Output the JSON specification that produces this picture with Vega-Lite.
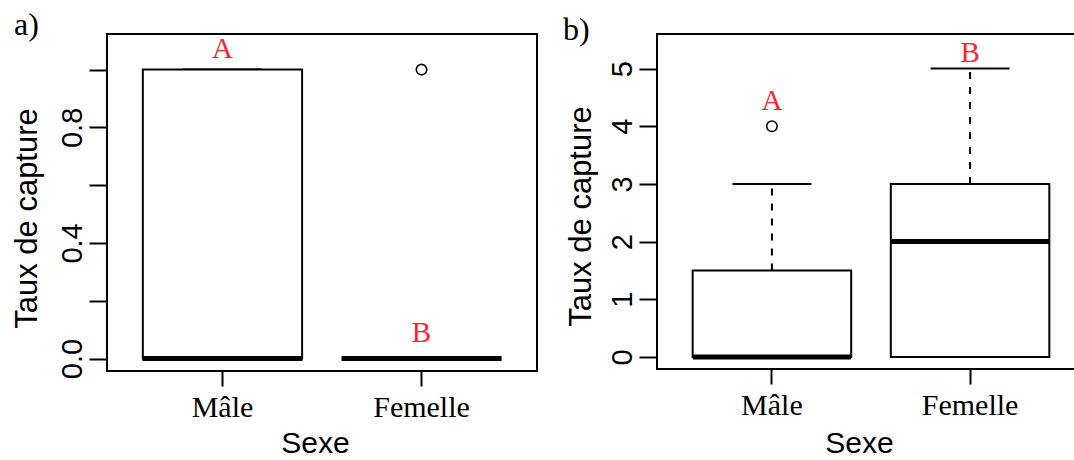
{
  "$schema": "https://vega.github.io/schema/vega-lite/v6.json",
  "padding": {"left": 10, "top": 8, "right": 0, "bottom": 0},
  "background": "white",
  "config": {
    "view": {"stroke": "black", "strokeWidth": 2},
    "tick": {"opacity": 1},
    "axis": {"grid": false, "domain": false, "tickColor": "black", "tickWidth": 2, "labelColor": "black", "titleColor": "black", "labelOverlap": false, "labelFlush": false, "titleFontWeight": "normal"},
    "title": {"font": "Liberation Serif", "fontSize": 32, "fontWeight": "normal", "color": "black", "anchor": "start", "frame": "bounds", "baseline": "alphabetic"}
  },
  "datasets": {
    "boxA": [
      {"sexe": "Mâle", "lo": 0, "q1": 0, "med": 0, "q3": 1, "hi": 1},
      {"sexe": "Femelle", "lo": 0, "q1": 0, "med": 0, "q3": 0, "hi": 0}
    ],
    "outA": [{"sexe": "Femelle", "v": 1}],
    "letA": [{"sexe": "Mâle", "y": 1.04, "lab": "A"}, {"sexe": "Femelle", "y": 0.056, "lab": "B"}],
    "boxB": [
      {"sexe": "Mâle", "lo": 0, "q1": 0, "med": 0, "q3": 1.5, "hi": 3},
      {"sexe": "Femelle", "lo": 0, "q1": 0, "med": 2, "q3": 3, "hi": 5}
    ],
    "outB": [{"sexe": "Mâle", "v": 4}],
    "letB": [{"sexe": "Mâle", "y": 4.28, "lab": "A"}, {"sexe": "Femelle", "y": 5.116, "lab": "B"}]
  },
  "spacing": 24,
  "hconcat": [
    {
      "width": 430,
      "height": 337,
      "title": {"text": "a)", "offset": -8, "dx": 3},
      "encoding": {
        "x": {"field": "sexe", "type": "nominal", "sort": ["Mâle", "Femelle"],
          "scale": {"paddingInner": 0.2, "paddingOuter": 0.18},
          "axis": {"labelFont": "Liberation Serif", "labelFontSize": 30, "labelAngle": 0, "labelBaseline": "alphabetic", "labelPadding": 30, "tickSize": 15,
            "title": "Sexe", "titleFont": "Liberation Sans", "titleFontSize": 30, "titleBaseline": "alphabetic", "titleAlign": "center", "titleX": 208, "titleY": 81}}
      },
      "layer": [
        {
          "data": {"name": "boxA"},
          "mark": {"type": "rule", "strokeDash": [7, 8], "strokeWidth": 2, "color": "black"},
          "encoding": {
            "y": {"field": "q3", "type": "quantitative", "scale": {"domain": [-0.0432, 1.1232], "nice": false, "zero": false},
              "axis": {"values": [0, 0.2, 0.4, 0.6, 0.8, 1], "format": ".1f", "labelExpr": "(datum.label == '0.0' || datum.label == '0.4' || datum.label == '0.8') ? datum.label : ''",
                "labelAngle": -90, "labelAlign": "center", "labelBaseline": "alphabetic", "labelPadding": 8, "tickSize": 18,
                "labelFont": "Liberation Sans", "labelFontSize": 29,
                "title": "Taux de capture", "titleFont": "Liberation Sans", "titleFontSize": 31, "titleAngle": -90, "titleAlign": "center", "titleBaseline": "middle", "titleX": -80, "titleY": 184}},
            "y2": {"field": "hi"}
          }
        },
        {
          "data": {"name": "boxA"},
          "mark": {"type": "tick", "size": 79, "thickness": 2, "color": "black"},
          "encoding": {"y": {"field": "hi", "type": "quantitative", "title": "Taux de capture"}}
        },
        {
          "data": {"name": "boxA"},
          "mark": {"type": "bar", "fill": "white", "stroke": "black", "strokeWidth": 2},
          "encoding": {"y": {"field": "q1", "type": "quantitative", "title": "Taux de capture"}, "y2": {"field": "q3"}}
        },
        {
          "data": {"name": "boxA"},
          "mark": {"type": "tick", "size": 160, "thickness": 5, "color": "black"},
          "encoding": {"y": {"field": "med", "type": "quantitative", "title": "Taux de capture"}}
        },
        {
          "data": {"name": "outA"},
          "mark": {"type": "point", "shape": "circle", "filled": false, "size": 110, "strokeWidth": 1.6, "color": "black", "opacity": 1},
          "encoding": {"y": {"field": "v", "type": "quantitative", "title": "Taux de capture"}}
        },
        {
          "data": {"name": "letA"},
          "mark": {"type": "text", "font": "Liberation Serif", "fontSize": 29, "color": "#ff2233", "baseline": "alphabetic", "align": "center"},
          "encoding": {"y": {"field": "y", "type": "quantitative", "title": "Taux de capture"}, "text": {"field": "lab"}}
        }
      ]
    },
    {
      "width": 428,
      "height": 335,
      "title": {"text": "b)", "offset": -13, "dx": -2},
      "encoding": {
        "x": {"field": "sexe", "type": "nominal", "sort": ["Mâle", "Femelle"],
          "scale": {"paddingInner": 0.2, "paddingOuter": 0.18},
          "axis": {"labelFont": "Liberation Serif", "labelFontSize": 30, "labelAngle": 0, "labelBaseline": "alphabetic", "labelPadding": 30, "tickSize": 15,
            "title": "Sexe", "titleFont": "Liberation Sans", "titleFontSize": 30, "titleBaseline": "alphabetic", "titleAlign": "center", "titleX": 202, "titleY": 83}}
      },
      "layer": [
        {
          "data": {"name": "boxB"},
          "mark": {"type": "rule", "strokeDash": [7, 8], "strokeWidth": 2, "color": "black"},
          "encoding": {
            "y": {"field": "q3", "type": "quantitative", "scale": {"domain": [-0.21, 5.6], "nice": false, "zero": false},
              "axis": {"values": [0, 1, 2, 3, 4, 5], "format": "d",
                "labelAngle": -90, "labelAlign": "center", "labelBaseline": "alphabetic", "labelPadding": 8, "tickSize": 18,
                "labelFont": "Liberation Sans", "labelFontSize": 29,
                "title": "Taux de capture", "titleFont": "Liberation Sans", "titleFontSize": 31, "titleAngle": -90, "titleAlign": "center", "titleBaseline": "middle", "titleX": -76, "titleY": 182}},
            "y2": {"field": "hi"}
          }
        },
        {
          "data": {"name": "boxB"},
          "mark": {"type": "tick", "size": 79, "thickness": 2, "color": "black"},
          "encoding": {"y": {"field": "hi", "type": "quantitative", "title": "Taux de capture"}}
        },
        {
          "data": {"name": "boxB"},
          "mark": {"type": "bar", "fill": "white", "stroke": "black", "strokeWidth": 2},
          "encoding": {"y": {"field": "q1", "type": "quantitative", "title": "Taux de capture"}, "y2": {"field": "q3"}}
        },
        {
          "data": {"name": "boxB"},
          "mark": {"type": "tick", "size": 158, "thickness": 5, "color": "black"},
          "encoding": {"y": {"field": "med", "type": "quantitative", "title": "Taux de capture"}}
        },
        {
          "data": {"name": "outB"},
          "mark": {"type": "point", "shape": "circle", "filled": false, "size": 110, "strokeWidth": 1.6, "color": "black", "opacity": 1},
          "encoding": {"y": {"field": "v", "type": "quantitative", "title": "Taux de capture"}}
        },
        {
          "data": {"name": "letB"},
          "mark": {"type": "text", "font": "Liberation Serif", "fontSize": 29, "color": "#ff2233", "baseline": "alphabetic", "align": "center"},
          "encoding": {"y": {"field": "y", "type": "quantitative", "title": "Taux de capture"}, "text": {"field": "lab"}}
        }
      ]
    }
  ]
}
